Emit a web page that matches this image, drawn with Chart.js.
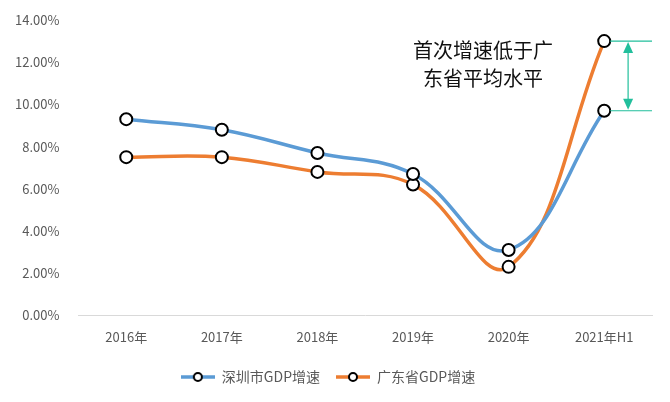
<!DOCTYPE html>
<html>
<head>
<meta charset="utf-8">
<script src="https://cdn.jsdelivr.net/npm/chart.js@4"></script>
<style>
    html, body { margin: 0; padding: 0; background: #fff; }
    #wrap { width: 670px; height: 402px; }
</style>
</head>
<body>
<div id="wrap"><canvas id="gdpChart"></canvas></div>
<script>
const categories = ['2016年', '2017年', '2018年', '2019年', '2020年', '2021年H1'];
const shenzhenGrowth = [9.3, 8.8, 7.7, 6.7, 3.1, 9.7];
const guangdongGrowth = [7.5, 7.5, 6.8, 6.2, 2.3, 13.0];
const yTicks = [0, 2, 4, 6, 8, 10, 12, 14];
const noteLines = ['首次增速低于广', '东省平均水平'];

const FONT = '"Noto Sans CJK SC", "Noto Sans", sans-serif';

// legend icon: line with hollow marker
function legendIcon(color) {
    const c = document.createElement('canvas');
    c.width = 34;
    c.height = 12;
    const g = c.getContext('2d');
    g.strokeStyle = color;
    g.lineWidth = 3.5;
    g.beginPath();
    g.moveTo(0, 6);
    g.lineTo(34, 6);
    g.stroke();
    g.fillStyle = '#fff';
    g.strokeStyle = '#000';
    g.lineWidth = 2;
    g.beginPath();
    g.arc(17, 6, 4, 0, Math.PI * 2);
    g.fill();
    g.stroke();
    return c;
}

// annotation: text + green double arrow at last category
const notePlugin = {
    id: 'notePlugin',
    afterDatasetsDraw(chart) {
        const { ctx, chartArea, scales } = chart;
        const last = categories.length - 1;
        const x0 = scales.x.getPixelForValue(last);
        const yTop = scales.y.getPixelForValue(guangdongGrowth[last]);
        const yBot = scales.y.getPixelForValue(shenzhenGrowth[last]);
        const xr = chartArea.right;
        const xa = (x0 + xr) / 2;
        const green = '#22BF9C';

        ctx.save();
        ctx.strokeStyle = green;
        ctx.fillStyle = green;
        ctx.lineWidth = 1.2;
        ctx.beginPath();
        ctx.moveTo(x0 + 6, yTop);
        ctx.lineTo(xr, yTop);
        ctx.moveTo(x0 + 6, yBot);
        ctx.lineTo(xr, yBot);
        ctx.moveTo(xa, yTop + 8);
        ctx.lineTo(xa, yBot - 8);
        ctx.stroke();

        ctx.beginPath();
        ctx.moveTo(xa, yTop + 1);
        ctx.lineTo(xa - 5, yTop + 12);
        ctx.lineTo(xa + 5, yTop + 12);
        ctx.closePath();
        ctx.fill();
        ctx.beginPath();
        ctx.moveTo(xa, yBot - 1);
        ctx.lineTo(xa - 5, yBot - 12);
        ctx.lineTo(xa + 5, yBot - 12);
        ctx.closePath();
        ctx.fill();

        ctx.fillStyle = '#111';
        ctx.font = '20px ' + FONT;
        ctx.textAlign = 'center';
        ctx.textBaseline = 'middle';
        noteLines.forEach((t, i) => {
            ctx.fillText(t, 483, 50 + i * 28);
        });
        ctx.restore();
    }
};

const ctx = document.getElementById('gdpChart');

new Chart(ctx, {
    type: 'line',
    data: {
        labels: categories,
        datasets: [
            {
                label: '深圳市GDP增速',
                data: shenzhenGrowth,
                borderColor: '#5B9BD5',
                iconColor: '#5B9BD5'
            },
            {
                label: '广东省GDP增速',
                data: guangdongGrowth,
                borderColor: '#ED7D31',
                iconColor: '#ED7D31'
            }
        ].map(ds => Object.assign(ds, {
            borderWidth: 3.5,
            tension: 0.4,
            pointRadius: 6,
            pointHoverRadius: 6,
            pointBackgroundColor: '#fff',
            pointBorderColor: '#000',
            pointBorderWidth: 2,
            fill: false
        }))
    },
    options: {
        responsive: true,
        maintainAspectRatio: false,
        animation: false,
        layout: {
            padding: { left: 4, right: 18, top: 20, bottom: 8 }
        },
        plugins: {
            legend: {
                position: 'bottom',
                labels: {
                    usePointStyle: true,
                    pointStyleWidth: 34,
                    boxHeight: 13,
                    padding: 16,
                    color: '#595959',
                    font: { family: FONT, size: 14 },
                    generateLabels(chart) {
                        const items = Chart.defaults.plugins.legend.labels.generateLabels(chart);
                        items.forEach(it => {
                            it.pointStyle = legendIcon(chart.data.datasets[it.datasetIndex].iconColor);
                        });
                        return items;
                    }
                }
            },
            tooltip: { enabled: false }
        },
        scales: {
            x: {
                offset: true,
                grid: { display: false },
                border: { display: true, color: '#d9d9d9', width: 1 },
                afterFit(axis) {
                    axis.height += 3;
                },
                ticks: {
                    color: '#595959',
                    padding: 6,
                    font: { family: FONT, size: 13 }
                }
            },
            y: {
                min: yTicks[0],
                max: yTicks[yTicks.length - 1],
                grid: { display: false },
                border: { display: false },
                afterBuildTicks(axis) {
                    axis.ticks = yTicks.map(v => ({ value: v }));
                },
                ticks: {
                    color: '#595959',
                    padding: 11,
                    font: { family: FONT, size: 13 },
                    callback: v => v.toFixed(2) + '%'
                }
            }
        }
    },
    plugins: [notePlugin]
});
</script>
</body>
</html>
